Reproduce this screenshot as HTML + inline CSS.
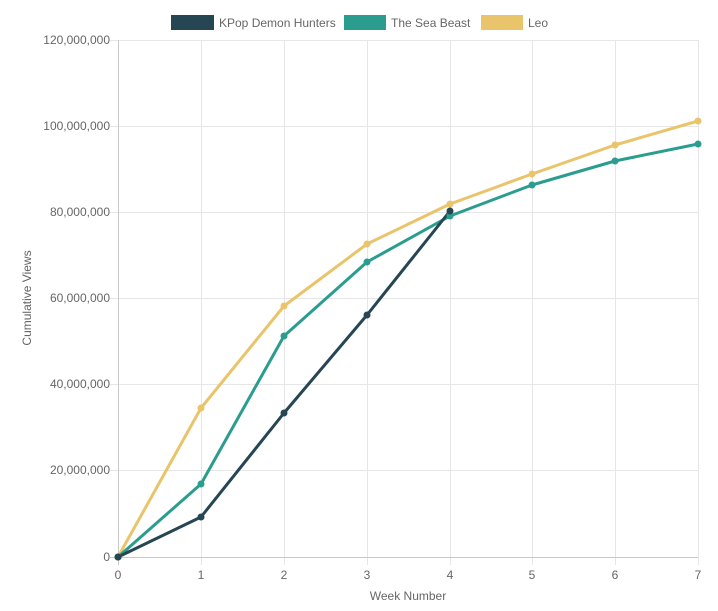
<!DOCTYPE html>
<html><head><meta charset="utf-8"><style>
html,body{margin:0;padding:0;background:#fff;}
svg{display:block;font-family:"Liberation Sans",Arial,sans-serif;}
</style></head><body>
<svg width="718" height="611" viewBox="0 0 718 611" xmlns="http://www.w3.org/2000/svg">
<g stroke="#e6e6e6" stroke-width="1">
<line x1="110" y1="40.5" x2="698" y2="40.5"/>
<line x1="110" y1="126.5" x2="698" y2="126.5"/>
<line x1="110" y1="212.5" x2="698" y2="212.5"/>
<line x1="110" y1="298.5" x2="698" y2="298.5"/>
<line x1="110" y1="384.5" x2="698" y2="384.5"/>
<line x1="110" y1="470.5" x2="698" y2="470.5"/>
<line x1="201.5" y1="40" x2="201.5" y2="565"/>
<line x1="284.5" y1="40" x2="284.5" y2="565"/>
<line x1="367.5" y1="40" x2="367.5" y2="565"/>
<line x1="450.5" y1="40" x2="450.5" y2="565"/>
<line x1="532.5" y1="40" x2="532.5" y2="565"/>
<line x1="615.5" y1="40" x2="615.5" y2="565"/>
<line x1="698.5" y1="40" x2="698.5" y2="565"/>
</g>
<g stroke="#c8c8c8" stroke-width="1">
<line x1="118.5" y1="40" x2="118.5" y2="565"/>
<line x1="110" y1="557.5" x2="698" y2="557.5"/>
</g>
<g font-size="12" fill="#666" text-anchor="end">
<text x="110" y="44">120,000,000</text>
<text x="110" y="130">100,000,000</text>
<text x="110" y="216">80,000,000</text>
<text x="110" y="302">60,000,000</text>
<text x="110" y="388">40,000,000</text>
<text x="110" y="474">20,000,000</text>
<text x="110" y="561">0</text>
</g>
<g font-size="12" fill="#666" text-anchor="middle">
<text x="118" y="579">0</text><text x="201" y="579">1</text><text x="284" y="579">2</text>
<text x="367" y="579">3</text><text x="450" y="579">4</text><text x="532" y="579">5</text>
<text x="615" y="579">6</text><text x="698" y="579">7</text>
<text x="408" y="600">Week Number</text>
<text transform="translate(31,298) rotate(-90)">Cumulative Views</text>
</g>
<g fill="none" stroke-width="3" stroke-linejoin="round">
<polyline stroke="#e9c46a" points="118,557 201,408 284,306 367,244 450,204 532,174 615,145 698,121"/>
<polyline stroke="#2a9d8f" points="118,557 201,484 284,336 367,262 450,216 532,185 615,161 698,144"/>
<polyline stroke="#264653" points="118,557 201,517 284,413 367,315 450,211"/>
</g>
<g fill="#e9c46a">
<circle cx="118" cy="557" r="3.5"/><circle cx="201" cy="408" r="3.5"/><circle cx="284" cy="306" r="3.5"/><circle cx="367" cy="244" r="3.5"/><circle cx="450" cy="204" r="3.5"/><circle cx="532" cy="174" r="3.5"/><circle cx="615" cy="145" r="3.5"/><circle cx="698" cy="121" r="3.5"/>
</g>
<g fill="#2a9d8f">
<circle cx="118" cy="557" r="3.5"/><circle cx="201" cy="484" r="3.5"/><circle cx="284" cy="336" r="3.5"/><circle cx="367" cy="262" r="3.5"/><circle cx="450" cy="216" r="3.5"/><circle cx="532" cy="185" r="3.5"/><circle cx="615" cy="161" r="3.5"/><circle cx="698" cy="144" r="3.5"/>
</g>
<g fill="#264653">
<circle cx="118" cy="557" r="3.5"/><circle cx="201" cy="517" r="3.5"/><circle cx="284" cy="413" r="3.5"/><circle cx="367" cy="315" r="3.5"/><circle cx="450" cy="211" r="3.5"/>
</g>
<rect x="171" y="15" width="43" height="15" fill="#264653"/>
<rect x="344" y="15" width="42" height="15" fill="#2a9d8f"/>
<rect x="481" y="15" width="42" height="15" fill="#e9c46a"/>
<g font-size="12" fill="#666">
<text x="219" y="27">KPop Demon Hunters</text>
<text x="391" y="27">The Sea Beast</text>
<text x="528" y="27">Leo</text>
</g>
</svg>
</body></html>
